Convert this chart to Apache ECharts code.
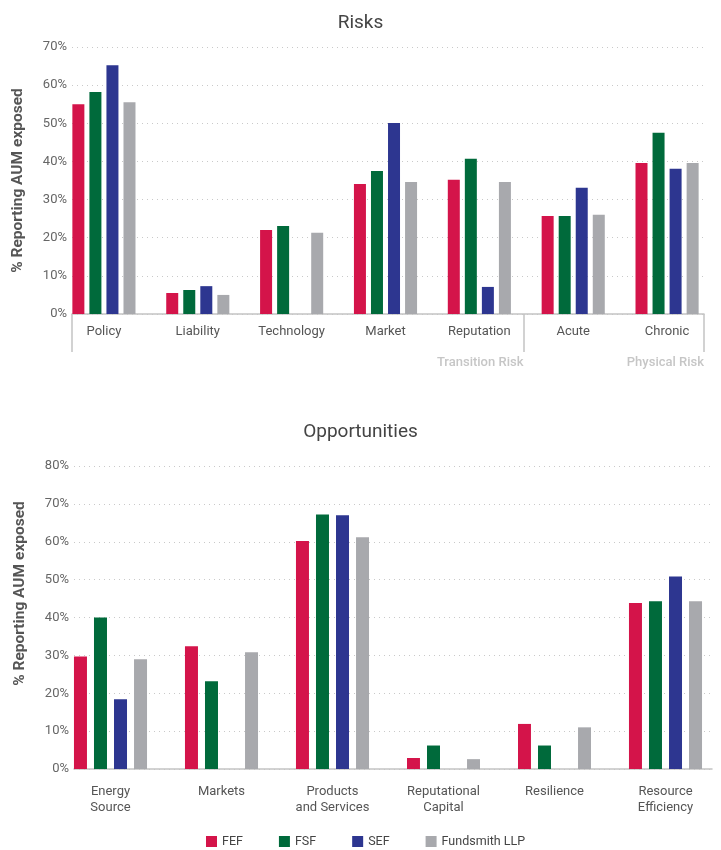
<!DOCTYPE html>
<html>
<head>
<meta charset="utf-8">
<title>Risks and Opportunities</title>
<script src="https://cdn.jsdelivr.net/npm/echarts@6/dist/echarts.min.js"></script>
<style>
  html, body { margin: 0; padding: 0; background: #fff; }
  #chart { width: 721px; height: 850px; }
</style>
</head>
<body>
<div id="chart"></div>
<script>
// funds (series) and their colours
const funds = ['FEF', 'FSF', 'SEF', 'Fundsmith LLP'];
const fundColors = ['#d4144a', '#006a3b', '#2d3690', '#a8a9ad'];

// Risks
const riskCategories = ['Policy', 'Liability', 'Technology', 'Market', 'Reputation', 'Acute', 'Chronic'];
const riskGroupNames = ['Transition Risk', 'Physical Risk'];
const riskGroupSizes = [5, 2];
const riskFEF = [55, 5.5, 22, 34.1, 35.2, 25.7, 39.6];
const riskFSF = [58.2, 6.3, 23.1, 37.5, 40.7, 25.7, 47.5];
const riskSEF = [65.2, 7.3, null, 50.1, 7.1, 33.1, 38.1];
const riskLLP = [55.5, 5, 21.3, 34.6, 34.6, 26, 39.6];
const riskTicks = [0, 10, 20, 30, 40, 50, 60, 70];

// Opportunities
const oppCategories = ['Energy\nSource', 'Markets', 'Products\nand Services', 'Reputational\nCapital', 'Resilience', 'Resource\nEfficiency'];
const oppFEF = [29.7, 32.4, 60.2, 2.9, 11.9, 43.8];
const oppFSF = [40, 23.2, 67.2, 6.2, 6.2, 44.3];
const oppSEF = [18.4, null, 67, null, null, 50.8];
const oppLLP = [29, 30.8, 61.2, 2.6, 11, 44.3];
const oppTicks = [0, 10, 20, 30, 40, 50, 60, 70, 80];

const riskData = [riskFEF, riskFSF, riskSEF, riskLLP];
const oppData = [oppFEF, oppFSF, oppSEF, oppLLP];

// group boundaries (in category units) for the bracket under the risk axis
const groupBounds = [0];
riskGroupSizes.forEach(n => groupBounds.push(groupBounds[groupBounds.length - 1] + n));

const font = 'Roboto, "Liberation Sans", sans-serif';
const gridColor = '#c9c9c9';
const axisColor = '#c4c4c4';

const chart = echarts.init(document.getElementById('chart'));

function frameY(ticks, gridIndex, nameShift) {
  return {
    type: 'value',
    gridIndex: gridIndex,
    min: ticks[0],
    max: ticks[ticks.length - 1],
    interval: ticks[1] - ticks[0],
    name: '% Reporting AUM exposed',
    nameLocation: 'middle',
    nameGap: 46,
    nameTextStyle: {
      fontFamily: font,
      fontSize: 15.5,
      fontWeight: 'bold',
      color: '#555',
      padding: nameShift
    },
    axisLine: { show: false },
    axisTick: { show: false },
    axisLabel: {
      formatter: '{value}%',
      fontFamily: font,
      fontSize: 13,
      color: '#666',
      margin: 5
    },
    splitLine: {
      lineStyle: { color: gridColor, type: [1, 4], width: 1 }
    }
  };
}

function hiddenY(ticks, gridIndex) {
  return {
    type: 'value',
    gridIndex: gridIndex,
    min: ticks[0],
    max: ticks[ticks.length - 1],
    show: false
  };
}

const series = [];
funds.forEach((name, i) => {
  series.push({
    name: name,
    type: 'bar',
    xAxisIndex: 1,
    yAxisIndex: 1,
    barWidth: 12,
    barGap: '42%',
    itemStyle: { color: fundColors[i] },
    data: riskData[i]
  });
  series.push({
    name: name,
    type: 'bar',
    xAxisIndex: 3,
    yAxisIndex: 3,
    barWidth: 13,
    barGap: '54%',
    itemStyle: { color: fundColors[i] },
    data: oppData[i]
  });
});

const option = {
  animation: false,
  color: fundColors,
  title: [
    {
      text: 'Risks',
      left: 'center',
      top: 9,
      textStyle: { fontFamily: font, fontSize: 19, fontWeight: 'normal', color: '#444' }
    },
    {
      text: 'Opportunities',
      left: 'center',
      top: 418,
      textStyle: { fontFamily: font, fontSize: 19, fontWeight: 'normal', color: '#444' }
    }
  ],
  legend: {
    data: funds,
    left: 201,
    top: 830,
    icon: 'rect',
    itemWidth: 11,
    itemHeight: 11,
    itemGap: 36,
    textStyle: { fontFamily: font, fontSize: 12.5, color: '#444' }
  },
  grid: [
    { left: 72, right: 17, top: 47, height: 267 },
    { left: 57, width: 657, top: 47, height: 267 },
    { left: 74, right: 9, top: 466, height: 303 },
    { left: 55, width: 671, top: 466, height: 303 }
  ],
  xAxis: [
    {
      type: 'value',
      gridIndex: 0,
      min: 0,
      max: riskCategories.length,
      position: 'bottom',
      splitLine: { show: false },
      axisLine: { show: true, lineStyle: { color: axisColor, width: 1.5 } },
      axisTick: {
        show: true,
        customValues: groupBounds,
        length: 38,
        lineStyle: { color: axisColor, width: 1.5 }
      },
      axisLabel: {
        customValues: groupBounds.slice(1),
        formatter: v => riskGroupNames[groupBounds.indexOf(v) - 1] || '',
        align: 'right',
        margin: 42,
        fontFamily: font,
        fontSize: 13,
        fontWeight: 500,
        color: '#c6c6c6'
      }
    },
    {
      type: 'category',
      gridIndex: 1,
      data: riskCategories,
      axisLine: { show: false },
      axisTick: { show: false },
      axisLabel: { fontFamily: font, fontSize: 13, color: '#555', margin: 11 }
    },
    {
      type: 'value',
      gridIndex: 2,
      min: 0,
      max: oppCategories.length,
      splitLine: { show: false },
      axisTick: { show: false },
      axisLabel: { show: false },
      axisLine: { show: true, lineStyle: { color: axisColor, width: 1.5 } }
    },
    {
      type: 'category',
      gridIndex: 3,
      data: oppCategories,
      axisLine: { show: false },
      axisTick: { show: false },
      axisLabel: { fontFamily: font, fontSize: 13, color: '#555', margin: 15, lineHeight: 16 }
    }
  ],
  yAxis: [
    frameY(riskTicks, 0, 0),
    hiddenY(riskTicks, 1),
    frameY(oppTicks, 2, [0, 0, 0, 48]),
    hiddenY(oppTicks, 3)
  ],
  series: series
};

chart.setOption(option);
</script>
</body>
</html>
